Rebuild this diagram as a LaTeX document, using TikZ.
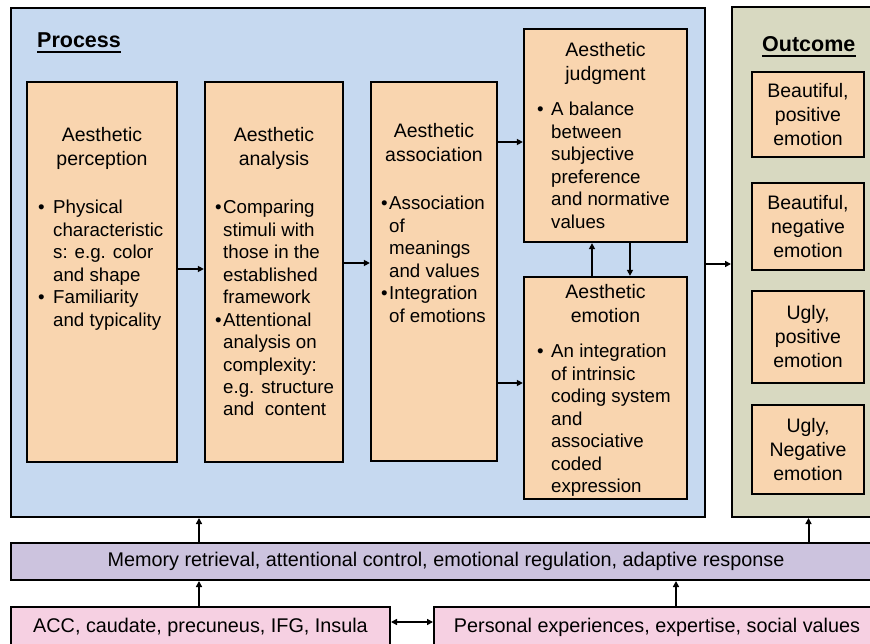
\documentclass[tikz,border=0pt]{standalone}
\usepackage{fontspec}
\setmainfont{Liberation Sans}
\usetikzlibrary{arrows.meta}
\definecolor{procbg}{HTML}{C6D9F0}
\definecolor{boxfill}{HTML}{F9D5AF}
\definecolor{outbg}{HTML}{D8D9C1}
\definecolor{membg}{HTML}{CCC3DE}
\definecolor{pinkbg}{HTML}{F6D0E2}
\newcommand{\myb}[1]{\makebox[#1][l]{\textbullet}}
\newcommand{\myi}[1]{\hspace*{#1}}
\begin{document}
\begin{tikzpicture}[x=1pt,y=-1pt,
  panel/.style={draw=black, line width=2pt, inner sep=0pt},
  box/.style={draw=black, line width=2.3pt, fill=boxfill, inner sep=0pt},
  ttl/.style={inner sep=0pt, align=center, font=\fontsize{19.5}{24}\selectfont},
  bl/.style={inner sep=0pt, align=left, anchor=north west, font=\fontsize{18.7}{22.45}\selectfont},
  otxt/.style={box, align=center, font=\fontsize{19.5}{24}\selectfont},
  head/.style={inner sep=0pt, anchor=base west, font=\bfseries\fontsize{21.5}{26}\selectfont},
  bar/.style={draw=black, line width=2pt, inner sep=0pt, font=\fontsize{19.8}{24}\selectfont},
  arr/.style={-{Triangle[length=6pt,width=6pt]}, line width=2pt},
  darr/.style={{Triangle[length=6pt,width=6pt]}-{Triangle[length=6pt,width=6pt]}, line width=2pt}]
\useasboundingbox (0,0) rectangle (870,644);
\clip (0,0) rectangle (870,644);
\fill[white] (0,0) rectangle (870,644);

% panels
\node[panel, fill=procbg, minimum width=694pt, minimum height=509pt] (process) at (358,262.5) {};
\node[panel, fill=outbg, minimum width=153pt, minimum height=510pt] (outcome) at (808.5,262) {};
\node[bar, fill=membg, minimum width=874pt, minimum height=37pt] (memory) at (448,561.5)
  {\hspace*{-4pt}Memory retrieval, attentional control, emotional regulation, adaptive response};
\node[bar, fill=pinkbg, minimum width=379pt, minimum height=40pt] (acc) at (200.5,627)
  {ACC, caudate, precuneus, IFG, Insula};
\node[bar, fill=pinkbg, minimum width=451pt, minimum height=40pt] (pers) at (659.5,627)
  {\hspace*{-5pt}Personal experiences, expertise, social values};

% headings
\node[head] (ptitle) at (37,48) {Process};
\draw[line width=1.2pt] ([yshift=-4pt]ptitle.base west) -- ([yshift=-4pt]ptitle.base east);
\node[head] (otitle) at (762,52) {Outcome};
\draw[line width=1.2pt] ([yshift=-4pt]otitle.base west) -- ([yshift=-4pt]otitle.base east);

% process boxes
\node[box, minimum width=150pt, minimum height=380pt] (perc) at (102,272) {};
\node[box, minimum width=138pt, minimum height=380pt] (anal) at (274,272) {};
\node[box, minimum width=126pt, minimum height=379pt] (assoc) at (434,271.5) {};
\node[box, minimum width=163pt, minimum height=213pt] (judg) at (605.5,135.5) {};
\node[box, minimum width=163pt, minimum height=222pt] (emot) at (605.5,388) {};

% box texts
\node[ttl, anchor=north] (perc-t) at (102,125) {\strut Aesthetic\\perception};
\node[bl] (perc-b) at (38,198) {\strut\myb{15pt}Physical\\\myi{15pt}characteristic\\\myi{15pt}s: e.g. color\\\myi{15pt}and shape\\\myb{15pt}Familiarity\\\myi{15pt}and typicality};

\node[ttl, anchor=north] (anal-t) at (274,125) {\strut Aesthetic\\analysis};
\node[bl] (anal-b) at (215,198) {\strut\myb{8pt}Comparing\\\myi{8pt}stimuli with\\\myi{8pt}those in the\\\myi{8pt}established\\\myi{8pt}framework\\\myb{8pt}Attentional\\\myi{8pt}analysis on\\\myi{8pt}complexity:\\\myi{8pt}e.g. structure\\\myi{8pt}and~ content};

\node[ttl, anchor=north] (assoc-t) at (434,121) {\strut Aesthetic\\association};
\node[bl] (assoc-b) at (381,194) {\strut\myb{8pt}Association\\\myi{8pt}of\\\myi{8pt}meanings\\\myi{8pt}and values\\\myb{8pt}Integration\\\myi{8pt}of emotions};

\node[ttl, anchor=north] (judg-t) at (605.5,40) {\strut Aesthetic\\judgment};
\node[bl] (judg-b) at (537,100) {\strut\myb{14pt}A balance\\\myi{14pt}between\\\myi{14pt}subjective\\\myi{14pt}preference\\\myi{14pt}and normative\\\myi{14pt}values};

\node[ttl, anchor=north] (emot-t) at (605.5,282) {\strut Aesthetic\\emotion};
\node[bl] (emot-b) at (537,342) {\strut\myb{14pt}An integration\\\myi{14pt}of intrinsic\\\myi{14pt}coding system\\\myi{14pt}and\\\myi{14pt}associative\\\myi{14pt}coded\\\myi{14pt}expression};

% outcome boxes
\node[otxt, minimum width=112pt, minimum height=85pt] (out1) at (808,114.5) {Beautiful,\\positive\\emotion};
\node[otxt, minimum width=112pt, minimum height=87pt] (out2) at (808,226.5) {Beautiful,\\negative\\emotion};
\node[otxt, minimum width=112pt, minimum height=92pt] (out3) at (808,337) {Ugly,\\positive\\emotion};
\node[otxt, minimum width=112pt, minimum height=89pt] (out4) at (808,449.5) {Ugly,\\Negative\\emotion};

% helper coordinates
\coordinate (y269) at (0,269);
\coordinate (y263) at (0,263);
\coordinate (y142) at (0,142);
\coordinate (y383) at (0,383);
\coordinate (y264) at (0,264);
\coordinate (y622) at (0,622);
\coordinate (x592) at (592,0);
\coordinate (x630) at (630,0);
\coordinate (x199) at (199,0);
\coordinate (x676) at (676,0);

% connectors
\draw[arr] (perc.east |- y269) -- (anal.west |- y269);
\draw[arr] (anal.east |- y263) -- (assoc.west |- y263);
\draw[arr] (assoc.east |- y142) -- (judg.west |- y142);
\draw[arr] (assoc.east |- y383) -- (emot.west |- y383);
\draw[arr] (emot.north -| x592) -- (judg.south -| x592);
\draw[arr] (judg.south -| x630) -- (emot.north -| x630);
\draw[arr] (process.east |- y264) -- (outcome.west |- y264);
\draw[arr] (memory.north -| x199) -- (process.south -| x199);
\draw[arr] (memory.north -| outcome.south) -- (outcome.south);
\draw[arr] (acc.north -| x199) -- (memory.south -| x199);
\draw[arr] (pers.north -| x676) -- (memory.south -| x676);
\draw[darr] (acc.east |- y622) -- (pers.west |- y622);
\end{tikzpicture}
\end{document}
